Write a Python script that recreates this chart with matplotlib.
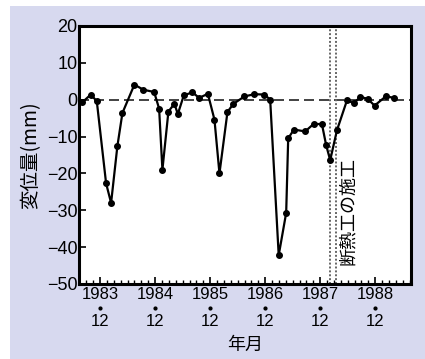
import matplotlib.pyplot as plt
from matplotlib.patches import Rectangle
from matplotlib.ticker import MultipleLocator

# months counted from 1983.12
months = [-3.86, -2.03, -0.72, 1.31, 2.40, 3.77, 4.87, 7.48, 9.45, 11.78,
          12.87, 13.59, 14.90, 16.21, 16.95, 18.26, 20.14, 21.60, 23.50, 24.94,
          26.03, 27.78, 29.09, 31.49, 33.67, 35.85, 37.09, 38.95, 40.58, 41.02,
          42.26, 44.73, 46.54, 48.37, 49.31, 50.18, 51.65, 53.83, 55.31, 56.77,
          58.32, 59.85, 62.30, 64.19]
disp = [-0.7, 1.4, -0.4, -22.7, -28.0, -12.6, -3.6, 4.1, 2.7, 2.1,
        -2.4, -19.0, -3.2, -1.1, -3.9, 1.2, 2.0, 0.5, 1.6, -5.4,
        -20.0, -3.3, -1.1, 0.9, 1.5, 1.4, 0.0, -42.2, -30.7, -10.5,
        -8.1, -8.6, -6.6, -6.6, -12.4, -16.4, -8.3, -0.2, -0.9, 0.7,
        0.3, -1.6, 0.9, 0.5]

years = ["1983", "1984", "1985", "1986", "1987", "1988"]
year_ticks = [0, 12, 24, 36, 48, 60]
month_label = "12"
work_lines = [50.03, 51.34]
work_label = "断熱工の施工"

num_font = ["Liberation Sans Narrow", "Liberation Sans", "DejaVu Sans"]
jp_font = ["Noto Sans CJK JP", "DejaVu Sans"]

fig = plt.figure(figsize=(4.25, 3.59), dpi=100)
fig.patches.append(Rectangle((10 / 425, 0), 1, 1 - 6 / 359, transform=fig.transFigure,
                             facecolor="#d7d9ef", edgecolor="none", zorder=-10))

ax = fig.add_axes([79 / 425, 1 - 284 / 359, 332 / 425, 258 / 359])
ax.set_facecolor("white")

ax.axhline(0, color="#222222", linewidth=1.2, linestyle=(0, (6, 3)), zorder=1)
for xv in work_lines:
    ax.axvline(xv, color="#666666", linewidth=1.4, linestyle=(0, (1, 1)), zorder=1)

ax.plot(months, disp, color="black", linewidth=1.6, marker="o", markersize=4, zorder=3)

ax.text(54.1, -30.3, work_label, rotation=90, ha="center", va="center",
        fontsize=13, family=jp_font)

ax.set_xlim(-4.6, 67.8)
ax.set_ylim(-50, 20)
ax.set_yticks(range(-50, 21, 10))
ax.set_yticklabels([f"{v:d}".replace("-", "\u2212") for v in range(-50, 21, 10)],
                   family=num_font, fontsize=13)
ax.set_xticks(year_ticks)
ax.set_xticklabels(years, family=num_font, fontsize=12)
ax.xaxis.set_minor_locator(MultipleLocator(1.5))

# year / dot / month stacked under each major tick
trans = ax.get_xaxis_transform()
for xt in year_ticks:
    ax.plot([xt], [-0.093], marker="o", markersize=2, color="black",
            transform=trans, clip_on=False)
    ax.text(xt, -0.147, month_label, transform=trans, ha="center", va="center",
            family=num_font, fontsize=12)

ax.tick_params(axis="y", direction="in", length=5, width=1.2, pad=1)
ax.tick_params(axis="x", which="major", direction="in", length=5, width=1.2, pad=2)
ax.tick_params(axis="x", which="minor", direction="in", length=3, width=1)

for s in ax.spines.values():
    s.set_linewidth(2.2)

ax.set_ylabel("変位量(mm)", family=jp_font, fontsize=14, labelpad=4)
ax.set_xlabel("年月", family=jp_font, fontsize=13)
ax.xaxis.set_label_coords(0.5, -0.2)

fig.savefig("out.png", dpi=100)
